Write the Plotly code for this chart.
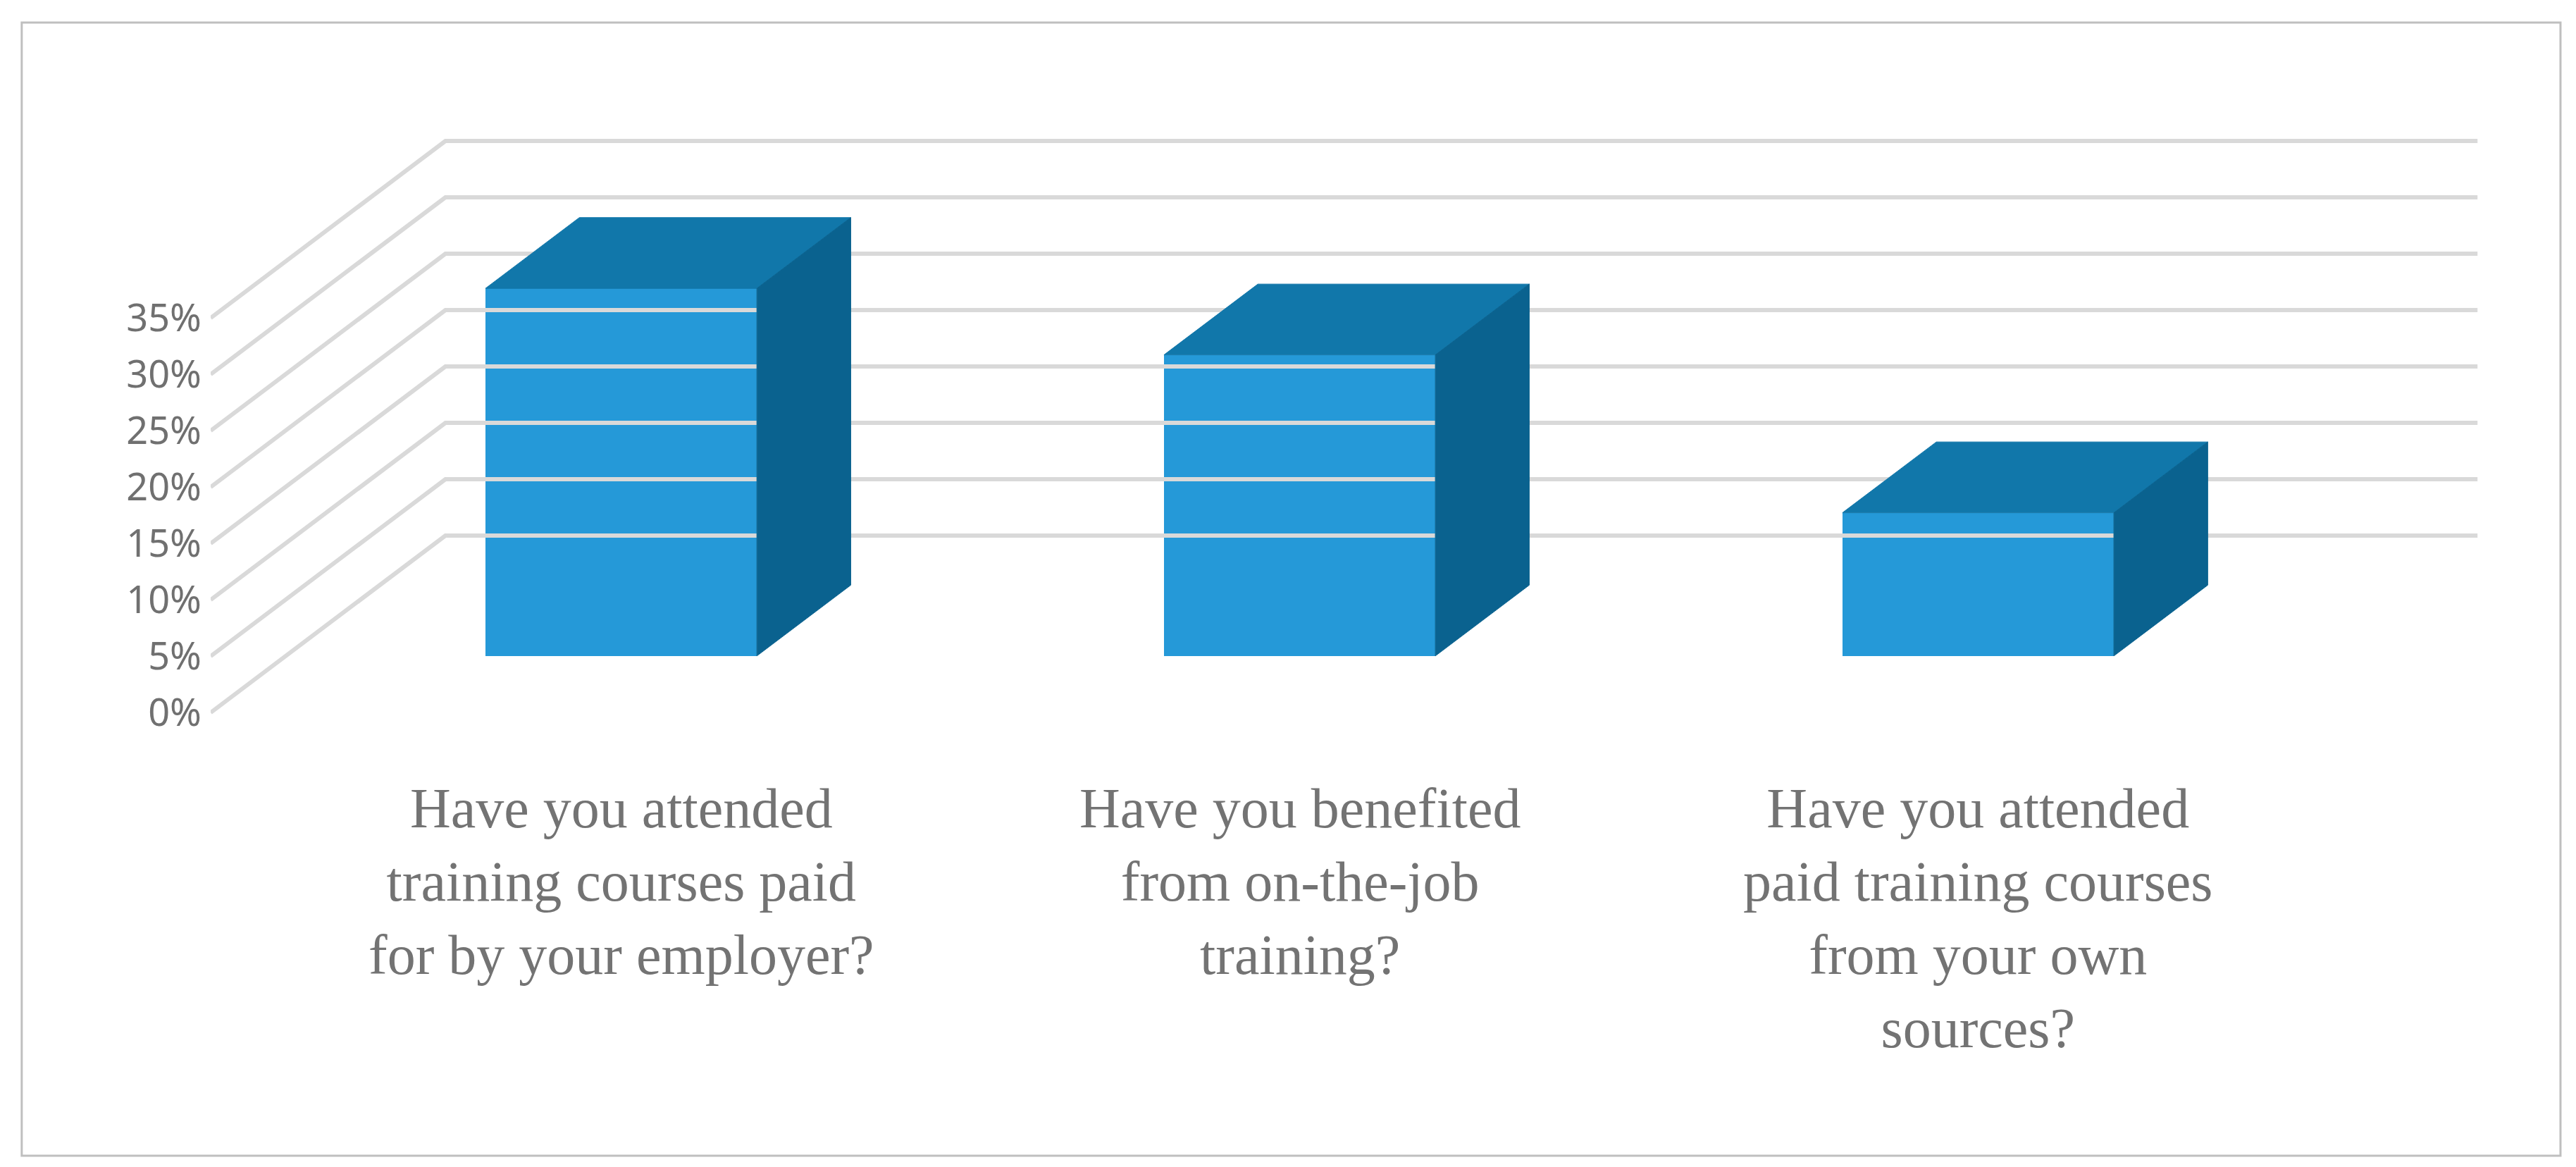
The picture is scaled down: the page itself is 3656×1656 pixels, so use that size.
import plotly.graph_objects as go

# data
categories = ["Have you attended<br>training courses paid<br>for by your employer?",
              "Have you benefited<br>from on-the-job<br>training?",
              "Have you attended<br>paid training courses<br>from your own<br>sources?"]
values = [32.6, 26.7, 12.7]
tick_values = [0, 5, 10, 15, 20, 25, 30, 35]

# fake 3D geometry (category units / percent units)
DEPTH_X, DEPTH_Y = 0.346, 15.7      # full floor depth offset
BAR_D0 = 0.32                       # front face depth of bars
BAR_DD = 0.40                       # bar depth
HALF_W = 0.2
X_FRONT = -0.605
X_RIGHT = 2.736

front_col = "#2599D8"
top_col = "#1177AA"
side_col = "#0A628F"
grid_col = "#D9D9D9"

xs = list(range(len(values)))
fig = go.Figure()

# gridlines: back wall + floor diagonals
for t in tick_values:
    fig.add_trace(go.Scatter(
        x=[X_FRONT, X_FRONT + DEPTH_X, X_RIGHT],
        y=[t, t + DEPTH_Y, t + DEPTH_Y],
        mode="lines", line=dict(color=grid_col, width=6),
        hoverinfo="skip", showlegend=False))

base = BAR_D0 * DEPTH_Y
ddx, ddy = BAR_DD * DEPTH_X, BAR_DD * DEPTH_Y

fig.add_trace(go.Bar(x=xs, y=values, base=base, width=2 * HALF_W,
                     marker=dict(color=front_col, line=dict(width=0)),
                     showlegend=False))

for x, v in zip(xs, values):
    top = v + base
    fig.add_trace(go.Scatter(
        x=[x - HALF_W, x + HALF_W, x + HALF_W + ddx, x - HALF_W + ddx, x - HALF_W],
        y=[top, top, top + ddy, top + ddy, top],
        fill="toself", fillcolor=top_col, mode="lines",
        line=dict(color=top_col, width=1), hoverinfo="skip", showlegend=False))
    fig.add_trace(go.Scatter(
        x=[x + HALF_W, x + HALF_W, x + HALF_W + ddx, x + HALF_W + ddx, x + HALF_W],
        y=[base, top, top + ddy, base + ddy, base],
        fill="toself", fillcolor=side_col, mode="lines",
        line=dict(color=side_col, width=1), hoverinfo="skip", showlegend=False))

for x, c in zip(xs, categories):
    fig.add_annotation(x=x, y=-5.6, text=c, showarrow=False, yanchor="top",
                       xanchor="center", align="center",
                       font=dict(family="Liberation Serif", size=80, color="#737373"))

fig.add_shape(type="rect", xref="paper", yref="y", x0=-0.0806, x1=1.0024,
              y0=-39.3, y1=61.2, line=dict(color="#BFBFBF", width=3),
              fillcolor="rgba(0,0,0,0)")

fig.update_layout(
    width=3656, height=1656, plot_bgcolor="white", paper_bgcolor="white",
    margin=dict(l=291, r=38, t=0, b=0), bargap=0,
    xaxis=dict(range=[X_FRONT, 2.85], showgrid=False, zeroline=False,
               showticklabels=False, showline=False),
    yaxis=dict(range=[-40.8, 62.7], tickvals=tick_values,
               ticktext=[f"{t}%" for t in tick_values], showgrid=False,
               zeroline=False, showline=False, ticks="", ticklabelstandoff=12,
               tickfont=dict(family="Noto Sans", size=54, color="#707070")),
)

fig.write_html("out.html")
